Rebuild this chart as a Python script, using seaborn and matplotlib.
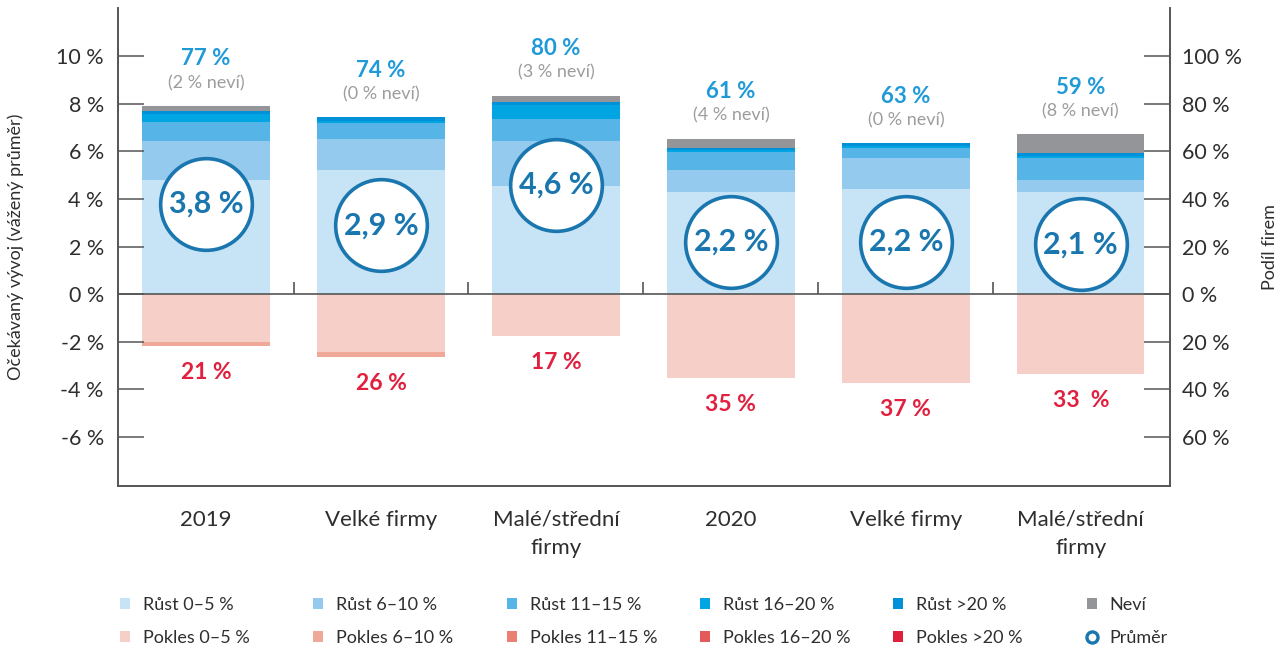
import numpy as np
import pandas as pd
import matplotlib
matplotlib.use("Agg")
import matplotlib.pyplot as plt
import seaborn as sns
from matplotlib.patches import Patch
from matplotlib.lines import Line2D

# ---------------- data ----------------
categories = ["2019", "Velké firmy", "Malé/střední\nfirmy", "2020", "Velké firmy", "Malé/střední\nfirmy"]

# firm shares (% of firms)
rust_0_5 = [48.0, 52.2, 45.5, 43.0, 44.3, 43.1]
rust_6_10 = [16.4, 13.0, 19.1, 9.3, 12.8, 4.9]
rust_11_15 = [7.9, 6.9, 9.1, 7.3, 4.2, 9.1]
rust_16_20 = [3.5, 0.8, 5.9, 1.0, 1.0, 1.2]
rust_nad_20 = [1.4, 1.5, 1.1, 0.8, 1.1, 1.2]
nevi = [2.0, 0.0, 2.8, 4.0, 0.0, 7.7]
pokles_0_5 = [20.2, 24.4, 17.5, 35.4, 37.6, 33.5]
pokles_6_10 = [1.6, 2.2, 0.0, 0.0, 0.0, 0.0]
pokles_11_15 = [0.0, 0.0, 0.0, 0.0, 0.0, 0.0]
pokles_16_20 = [0.0, 0.0, 0.0, 0.0, 0.0, 0.0]
pokles_nad_20 = [0.0, 0.0, 0.0, 0.0, 0.0, 0.0]

# weighted average expected development (%)
prumer = [3.8, 2.9, 4.6, 2.2, 2.2, 2.1]
prumer_labels = ["3,8 %", "2,9 %", "4,6 %", "2,2 %", "2,2 %", "2,1 %"]
rust_labels = ["77 %", "74 %", "80 %", "61 %", "63 %", "59 %"]
nevi_labels = ["(2 % neví)", "(0 % neví)", "(3 % neví)", "(4 % neví)", "(0 % neví)", "(8 % neví)"]
pokles_labels = ["21 %", "26 %", "17 %", "35 %", "37 %", "33  %"]

left_ticks = [10, 8, 6, 4, 2, 0, -2, -4, -6]
left_tick_labels = ["10 %", "8 %", "6 %", "4 %", "2 %", "0 %", "-2 %", "-4 %", "-6 %"]
right_ticks = [100, 80, 60, 40, 20, 0, -20, -40, -60]
right_tick_labels = ["100 %", "80 %", "60 %", "40 %", "20 %", "0 %", "20 %", "40 %", "60 %"]

rust_names = ["Růst 0–5 %", "Růst 6–10 %", "Růst 11–15 %", "Růst 16–20 %", "Růst >20 %"]
pokles_names = ["Pokles 0–5 %", "Pokles 6–10 %", "Pokles 11–15 %", "Pokles 16–20 %", "Pokles >20 %"]

# ---------------- style ----------------
rust_colors = ["#c7e3f6", "#93caee", "#56b4e6", "#00a5e1", "#0091d8"]
nevi_color = "#939598"
pokles_colors = ["#f6d0c8", "#f0a898", "#ea7f72", "#e45a5a", "#e01f3d"]
circle_color = "#1a76ae"
blue_text = "#1f9ad9"
grey_text = "#9d9d9d"
red_text = "#e0203e"
dark = "#2e2e2e"
spine_c = "#555555"

sns.set_theme(style="white")
plt.rcParams["font.family"] = ["Lato", "DejaVu Sans"]

fig = plt.figure(figsize=(12.81, 6.48), dpi=100)
ax = fig.add_axes([117.7 / 1281, 1 - 486 / 648, (1170 - 117.7) / 1281, (486 - 8) / 648])

n = len(categories)
keys = [str(i) for i in range(n)]

bar_w = 0.728
# positive stack
bottom = np.zeros(n)
for vals, col in zip([rust_0_5, rust_6_10, rust_11_15, rust_16_20, rust_nad_20, nevi],
                     rust_colors + [nevi_color]):
    v = np.array(vals, dtype=float)
    sns.barplot(x=keys, y=v, bottom=bottom.copy(), color=col, saturation=1, width=bar_w,
                errorbar=None, linewidth=0, edgecolor="none", order=keys, ax=ax)
    bottom = bottom + v
top_vals = bottom.copy()

# negative stack
bottom = np.zeros(n)
for vals, col in zip([pokles_0_5, pokles_6_10, pokles_11_15, pokles_16_20, pokles_nad_20], pokles_colors):
    v = -np.array(vals, dtype=float)
    sns.barplot(x=keys, y=v, bottom=bottom.copy(), color=col, saturation=1, width=bar_w,
                errorbar=None, linewidth=0, edgecolor="none", order=keys, ax=ax)
    bottom = bottom + v
bot_vals = bottom.copy()

ax.set_xlim(-0.505, n - 0.49)
ax.set_ylim(-80.8, 120.4)
ax.set_xlabel("")
ax.set_ylabel("")

# zero line + small boundary ticks
ax.axhline(0, color=spine_c, lw=1.2, zorder=3)
ax.vlines(np.arange(n - 1) + 0.5, 0, 5, color=spine_c, lw=1.2, zorder=3)

# labels above / below bars
for i in range(n):
    ax.annotate(rust_labels[i], (i, top_vals[i]), xytext=(0, 34), textcoords="offset points",
                ha="center", va="center", fontsize=16, fontweight="bold", color=blue_text)
    ax.annotate(nevi_labels[i], (i, top_vals[i]), xytext=(0, 16.5), textcoords="offset points",
                ha="center", va="center", fontsize=13, color=grey_text)
    ax.annotate(pokles_labels[i], (i, bot_vals[i]), xytext=(0, -19), textcoords="offset points",
                ha="center", va="center", fontsize=16.5, fontweight="bold", color=red_text)

# left axis (expected development) as twin
ax2 = ax.twinx()
ax2.set_ylim(-8.08, 12.04)

# right axis (firm share) = ax
ax.yaxis.tick_right()
ax.yaxis.set_label_position("right")
ax.set_yticks(right_ticks)
ax.set_yticklabels(right_tick_labels)
ax.set_ylabel("Podíl firem", fontsize=13, color=dark, labelpad=14)
ax.tick_params(axis="y", direction="in", length=19, width=1.1, color=spine_c, pad=9,
               labelsize=15.5, labelcolor=dark, right=True, left=False,
               labelright=True, labelleft=False)
ax.set_xticks(range(n))
ax.set_xticklabels(categories, linespacing=1.55)
ax.tick_params(axis="x", length=0, pad=17, labelsize=16, labelcolor=dark)

ax2.yaxis.tick_left()
ax2.yaxis.set_label_position("left")
ax2.set_yticks(left_ticks)
ax2.set_yticklabels(left_tick_labels)
ax2.set_ylabel("Očekávaný vývoj (vážený průměr)", fontsize=13, color=dark, labelpad=23)
ax2.tick_params(axis="y", direction="in", length=19, width=1.1, color=spine_c, pad=10,
                labelsize=15.5, labelcolor=dark, left=True, right=False,
                labelleft=True, labelright=False)

x_pos = np.arange(n)
ax2.plot(x_pos, prumer, linestyle="none", marker="o", markersize=66, markerfacecolor="white",
         markeredgecolor=circle_color, markeredgewidth=2.6, zorder=5)
for i in range(n):
    ax2.text(i, prumer[i], prumer_labels[i], ha="center", va="center", fontsize=22,
             fontweight="bold", color=circle_color, zorder=6)

for a in (ax, ax2):
    a.spines["top"].set_visible(False)
    for s in ("left", "right", "bottom"):
        a.spines[s].set_color(spine_c)
        a.spines[s].set_linewidth(1.2)

# legends: 6 columns, 2 rows
col_x = [120, 313, 507, 700, 893, 1087]
col_handles = []
for j in range(5):
    col_handles.append(([Patch(facecolor=rust_colors[j], edgecolor="none"),
                         Patch(facecolor=pokles_colors[j], edgecolor="none")],
                        [rust_names[j], pokles_names[j]]))
col_handles.append(([Patch(facecolor=nevi_color, edgecolor="none"),
                     Line2D([], [], linestyle="none", marker="o", markersize=8,
                            markerfacecolor="white", markeredgecolor=circle_color, markeredgewidth=2.4)],
                    ["Neví", "Průměr"]))
for x, (h, l) in zip(col_x, col_handles):
    fig.legend(h, l, loc="upper left", bbox_to_anchor=(x / 1281, 1 - 597 / 648),
               frameon=False, fontsize=13, handlelength=0.55, handleheight=0.55,
               handletextpad=0.7, labelspacing=0.95, borderpad=0, borderaxespad=0,
               labelcolor=dark)

fig.savefig("out.png", dpi=100)
